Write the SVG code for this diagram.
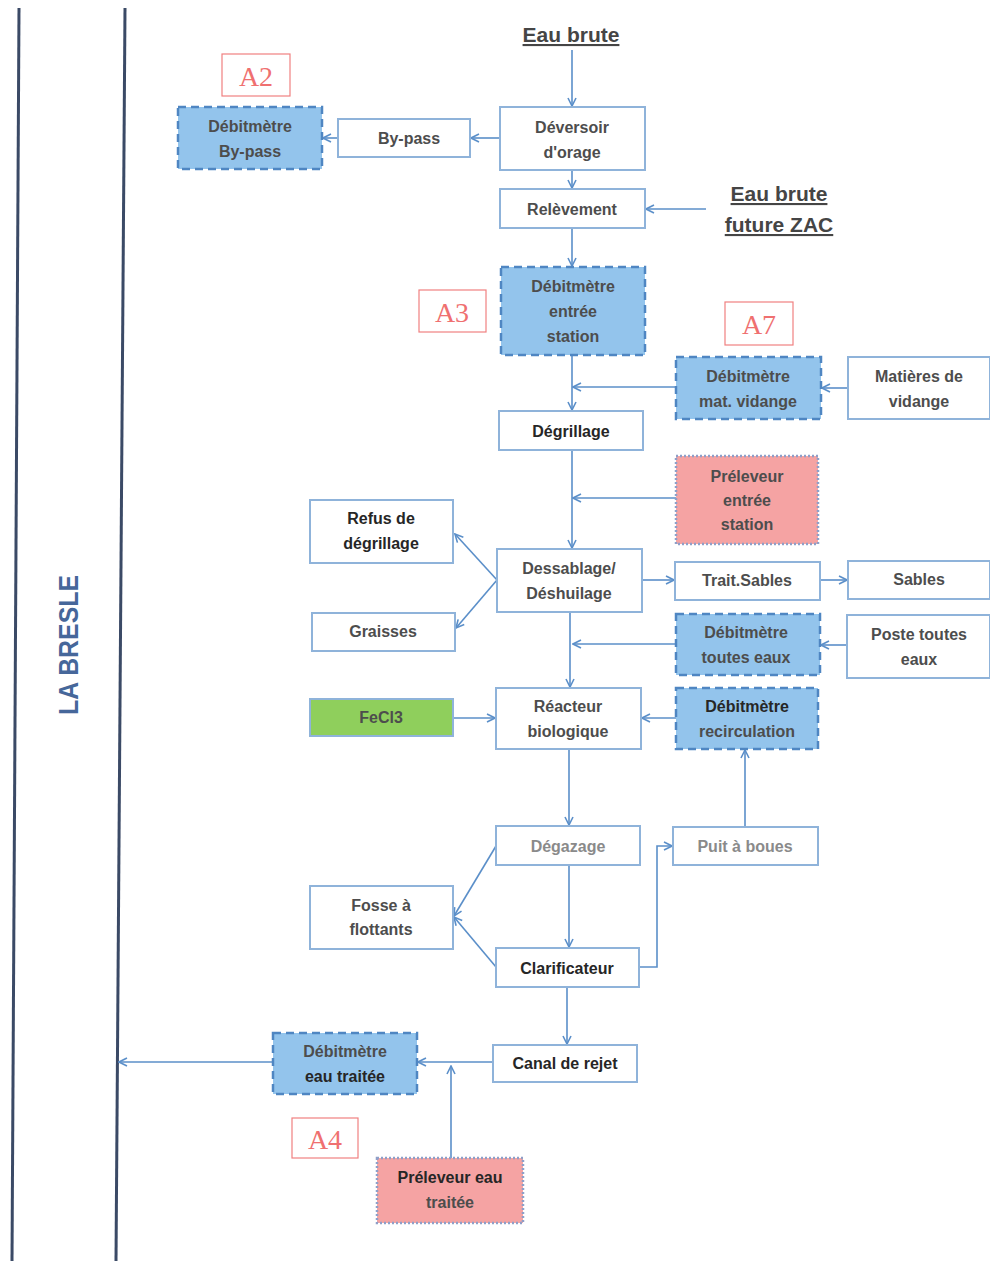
<svg xmlns="http://www.w3.org/2000/svg" width="990" height="1261" viewBox="0 0 990 1261">
<defs>
<marker id="ah" viewBox="0 0 10 10" refX="9" refY="5" markerWidth="10" markerHeight="10" markerUnits="userSpaceOnUse" orient="auto">
<path d="M1,1 L9,5 L1,9" fill="none" stroke="#5b8fc9" stroke-width="1.6"/>
</marker>
<style>
.box{fill:#fff;stroke:#8fb3da;stroke-width:2}
.dash{fill:#93c4ec;stroke:#4f86c2;stroke-width:2.5;stroke-dasharray:8 5}
.dot{fill:#f5a3a3;stroke:#8f9fc8;stroke-width:2.5;stroke-dasharray:2 2}
.green{fill:#8fcf5c;stroke:#8fb3da;stroke-width:2}
.t{font-family:"Liberation Sans",Arial,sans-serif;font-size:16px;font-weight:bold;fill:#4d4d4d;text-anchor:middle}
.dk{fill:#262626}
.lt{fill:#8a8a8a}
.lab{fill:none;stroke:#f08080;stroke-width:1.2}
.labt{font-family:"Liberation Serif","Times New Roman",serif;font-size:28px;fill:#ef7070;text-anchor:middle}
.big{font-family:"Liberation Sans",Arial,sans-serif;font-size:21px;font-weight:bold;fill:#454545;text-anchor:middle;text-decoration:underline}
.c{fill:none;stroke:#5b8fc9;stroke-width:1.6}
</style>
</defs>
<rect width="990" height="1261" fill="#fff"/>
<g id="river">
<line x1="19" y1="8" x2="12" y2="1261" stroke="#3b4a66" stroke-width="3"/>
<line x1="125" y1="8" x2="116" y2="1261" stroke="#3b4a66" stroke-width="3"/>
<text x="0" y="0" transform="translate(78,645) rotate(-90)" font-family="Liberation Sans,Arial,sans-serif" font-size="27" font-weight="bold" fill="#46679a" text-anchor="middle" textLength="140" lengthAdjust="spacingAndGlyphs">LA BRESLE</text>
</g>
<g id="connectors">
<path class="c" d="M572,50 V106" marker-end="url(#ah)"/>
<path class="c" d="M500,138 H471" marker-end="url(#ah)"/>
<path class="c" d="M338,138 H323" marker-end="url(#ah)"/>
<path class="c" d="M572,170 V188" marker-end="url(#ah)"/>
<path class="c" d="M706,209 H646" marker-end="url(#ah)"/>
<path class="c" d="M572,228 V266" marker-end="url(#ah)"/>
<path class="c" d="M572,355 V410" marker-end="url(#ah)"/>
<path class="c" d="M848,388 H822" marker-end="url(#ah)"/>
<path class="c" d="M676,387 H573" marker-end="url(#ah)"/>
<path class="c" d="M572,450 V548" marker-end="url(#ah)"/>
<path class="c" d="M676,498 H573" stroke="#b0607a" marker-end="url(#ah)"/>
<path class="c" d="M497,580 L455,534" marker-end="url(#ah)"/>
<path class="c" d="M497,580 L456,628" marker-end="url(#ah)"/>
<path class="c" d="M642,580 H674" marker-end="url(#ah)"/>
<path class="c" d="M820,580 H847" marker-end="url(#ah)"/>
<path class="c" d="M847,645 H821" marker-end="url(#ah)"/>
<path class="c" d="M676,644 H573" marker-end="url(#ah)"/>
<path class="c" d="M570,612 V687" marker-end="url(#ah)"/>
<path class="c" d="M453,718 H495" marker-end="url(#ah)"/>
<path class="c" d="M676,718 H642" marker-end="url(#ah)"/>
<path class="c" d="M569,749 V825" marker-end="url(#ah)"/>
<path class="c" d="M745,827 V750" marker-end="url(#ah)"/>
<path class="c" d="M569,865 V947" marker-end="url(#ah)"/>
<path class="c" d="M496,846 L454,916" marker-end="url(#ah)"/>
<path class="c" d="M496,967 L454,917" marker-end="url(#ah)"/>
<path class="c" d="M639,967 H657 V846 H672" marker-end="url(#ah)"/>
<path class="c" d="M567,987 V1044" marker-end="url(#ah)"/>
<path class="c" d="M493,1062 H418" marker-end="url(#ah)"/>
<path class="c" d="M273,1062 H119" marker-end="url(#ah)"/>
<path class="c" d="M451,1158 V1066" marker-end="url(#ah)"/>
</g>
<g id="eau-brute"><text class="big" x="571" y="42">Eau brute</text></g>
<g id="eau-brute-zac"><text class="big" x="779" y="201">Eau brute</text><text class="big" x="779" y="232">future ZAC</text></g>
<g id="label-a2"><rect class="lab" x="222" y="54" width="68" height="42"/><text class="labt" x="256" y="86">A2</text></g>
<g id="label-a3"><rect class="lab" x="419" y="290" width="67" height="42"/><text class="labt" x="452" y="322">A3</text></g>
<g id="label-a7"><rect class="lab" x="725" y="302" width="68" height="43"/><text class="labt" x="759" y="334">A7</text></g>
<g id="label-a4"><rect class="lab" x="292" y="1118" width="66" height="40"/><text class="labt" x="325" y="1149">A4</text></g>
<g id="deversoir"><rect class="box" x="500" y="107" width="145" height="63"/><text class="t" x="572" y="133">Déversoir</text><text class="t" x="572" y="158">d'orage</text></g>
<g id="bypass"><rect class="box" x="338" y="119" width="132" height="38"/><text class="t" x="409" y="144">By-pass</text></g>
<g id="debit-bypass"><rect class="dash" x="178" y="107" width="144" height="62"/><text class="t" x="250" y="132">Débitmètre</text><text class="t" x="250" y="157">By-pass</text></g>
<g id="relevement"><rect class="box" x="500" y="189" width="145" height="39"/><text class="t" x="572" y="215">Relèvement</text></g>
<g id="debit-entree"><rect class="dash" x="501" y="267" width="144" height="88"/><text class="t" x="573" y="292">Débitmètre</text><text class="t" x="573" y="317">entrée</text><text class="t" x="573" y="342">station</text></g>
<g id="debit-vidange"><rect class="dash" x="676" y="357" width="145" height="62"/><text class="t" x="748" y="382">Débitmètre</text><text class="t" x="748" y="407">mat. vidange</text></g>
<g id="matieres"><rect class="box" x="848" y="357" width="142" height="62"/><text class="t" x="919" y="382">Matières de</text><text class="t" x="919" y="407">vidange</text></g>
<g id="degrillage"><rect class="box" x="499" y="411" width="144" height="39"/><text class="t dk" x="571" y="437">Dégrillage</text></g>
<g id="preleveur-entree"><rect class="dot" x="676" y="456" width="142" height="88"/><text class="t" x="747" y="482">Préleveur</text><text class="t" x="747" y="506">entrée</text><text class="t" x="747" y="530">station</text></g>
<g id="dessablage"><rect class="box" x="497" y="549" width="145" height="63"/><text class="t" x="569" y="574">Dessablage/</text><text class="t" x="569" y="599">Déshuilage</text></g>
<g id="refus"><rect class="box" x="310" y="500" width="143" height="63"/><text class="t dk" x="381" y="524">Refus de</text><text class="t dk" x="381" y="549">dégrillage</text></g>
<g id="graisses"><rect class="box" x="312" y="613" width="143" height="38"/><text class="t" x="383" y="637">Graisses</text></g>
<g id="trait-sables"><rect class="box" x="675" y="562" width="145" height="38"/><text class="t" x="747" y="586">Trait.Sables</text></g>
<g id="sables"><rect class="box" x="848" y="561" width="142" height="38"/><text class="t" x="919" y="585">Sables</text></g>
<g id="debit-toutes-eaux"><rect class="dash" x="676" y="614" width="144" height="61"/><text class="t" x="746" y="638">Débitmètre</text><text class="t" x="746" y="663">toutes eaux</text></g>
<g id="poste-toutes-eaux"><rect class="box" x="847" y="615" width="143" height="63"/><text class="t" x="919" y="640">Poste toutes</text><text class="t" x="919" y="665">eaux</text></g>
<g id="fecl3"><rect class="green" x="310" y="699" width="143" height="37"/><text class="t" x="381" y="723">FeCl3</text></g>
<g id="reacteur"><rect class="box" x="496" y="688" width="145" height="61"/><text class="t" x="568" y="712">Réacteur</text><text class="t" x="568" y="737">biologique</text></g>
<g id="debit-recirc"><rect class="dash" x="676" y="688" width="142" height="61"/><text class="t dk" x="747" y="712">Débitmètre</text><text class="t" x="747" y="737">recirculation</text></g>
<g id="degazage"><rect class="box" x="496" y="826" width="144" height="39"/><text class="t lt" x="568" y="852">Dégazage</text></g>
<g id="puit"><rect class="box" x="673" y="827" width="145" height="38"/><text class="t lt" x="745" y="852">Puit à boues</text></g>
<g id="fosse"><rect class="box" x="310" y="886" width="143" height="63"/><text class="t" x="381" y="911">Fosse à</text><text class="t" x="381" y="935">flottants</text></g>
<g id="clarificateur"><rect class="box" x="496" y="948" width="143" height="39"/><text class="t dk" x="567" y="974">Clarificateur</text></g>
<g id="canal"><rect class="box" x="493" y="1045" width="144" height="37"/><text class="t dk" x="565" y="1069">Canal de rejet</text></g>
<g id="debit-eau-traitee"><rect class="dash" x="273" y="1033" width="144" height="61"/><text class="t" x="345" y="1057">Débitmètre</text><text class="t dk" x="345" y="1082">eau traitée</text></g>
<g id="preleveur-eau-traitee"><rect class="dot" x="377" y="1158" width="146" height="65"/><text class="t dk" x="450" y="1183">Préleveur eau</text><text class="t" x="450" y="1208">traitée</text></g>
</svg>
